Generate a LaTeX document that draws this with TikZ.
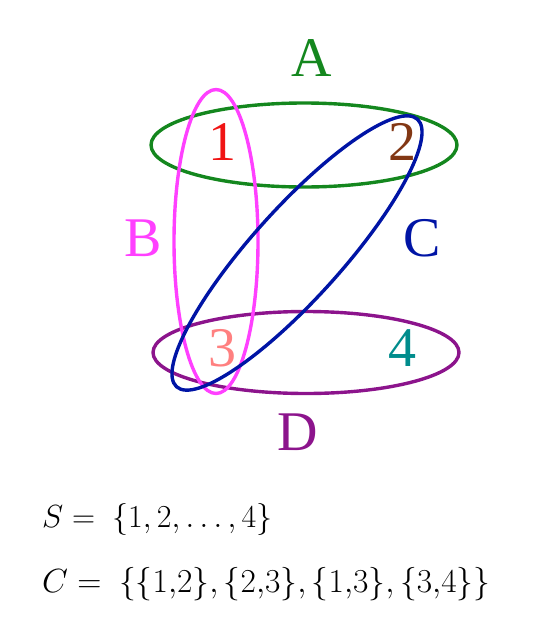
\RequirePackage{fix-cm}
\documentclass[tikz,border=0pt]{standalone}
\usepackage{fontspec}
\setmainfont{Liberation Serif}
\definecolor{cA}{RGB}{20,135,30}
\definecolor{cB}{RGB}{255,64,255}
\definecolor{cC}{RGB}{0,20,165}
\definecolor{cD}{RGB}{140,20,140}
\definecolor{cOne}{RGB}{240,20,20}
\definecolor{cTwo}{RGB}{130,55,20}
\definecolor{cThree}{RGB}{255,128,128}
\definecolor{cFour}{RGB}{0,140,140}
\tikzset{
  setline/.style={line width=3.4pt},
  lbl/.style={anchor=base, inner sep=0pt, font=\fontsize{56}{60}\selectfont},
  formula/.style={anchor=base west, inner sep=0pt}
}
\begin{document}
\begin{tikzpicture}[x=1pt,y=-1pt]
\useasboundingbox (0,0) rectangle (534,642);
% hyperedges
\draw[setline, cA] (304,145) ellipse [x radius=153, y radius=42];
\draw[setline, cD] (306,352.5) ellipse [x radius=153, y radius=41];
\draw[setline, cB] (216,241.5) ellipse [x radius=42, y radius=152];
\draw[setline, cC, rotate around={48:(297,253)}] (297,253) ellipse [x radius=180, y radius=45];
% set labels
\node[lbl, text=cA] (lA) at (312,77) {A};
\node[lbl, text=cB] (lB) at (143,256) {B};
\node[lbl, text=cC] (lC) at (422,256) {C};
\node[lbl, text=cD] (lD) at (298,450) {D};
% vertices
\node[lbl, text=cOne] (v1) at (222.5,160) {1};
\node[lbl, text=cTwo] (v2) at (402.5,160) {2};
\node[lbl, text=cThree] (v3) at (222.5,366.5) {3};
\node[lbl, text=cFour] (v4) at (402.5,366.5) {4};
% formulas
\node[formula, font=\fontsize{32}{36}\selectfont] (fS) at (42,527) {$S =\ \{1, 2, \ldots, 4\}$};
\node[formula, font=\fontsize{33.5}{38}\selectfont] (fC) at (42,592) {$C =\ \bigl\{\{1{,}2\}, \{2{,}3\}, \{1{,}3\}, \{3{,}4\}\bigr\}$};
\end{tikzpicture}
\end{document}
